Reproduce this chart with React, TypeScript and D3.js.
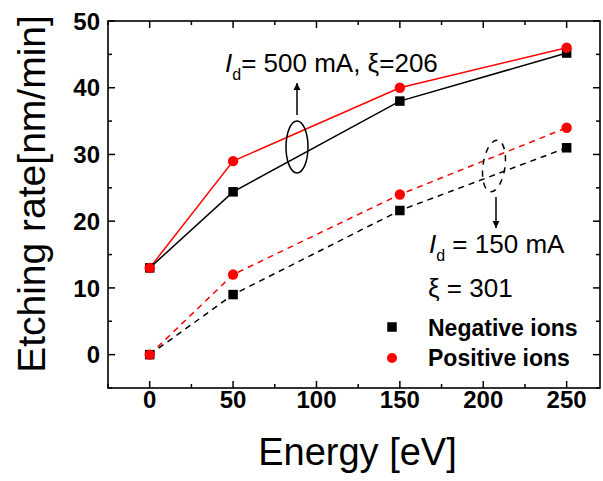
import React from "react";
import * as d3 from "d3";

const energies = [0, 50, 150, 250];
const neg500 = [13, 24.4, 38, 45.2];
const pos500 = [13, 29, 40, 46];
const neg150 = [0, 9, 21.6, 31];
const pos150 = [0, 12, 24, 34];
const xTicks = [0, 50, 100, 150, 200, 250];
const yTicks = [0, 10, 20, 30, 40, 50];
const xMinor = [-25, 25, 75, 125, 175, 225];
const yMinor = [-5, 5, 15, 25, 35, 45];

const W = 603, H = 481;
const L = 108, R = 600, T = 21, B = 388;
const FONT = "'Liberation Sans', Arial, Helvetica, sans-serif";

export default function App() {
  const x = d3.scaleLinear().domain([-25, 270]).range([L, R]);
  const y = d3.scaleLinear().domain([-5, 50]).range([B, T]);
  const line = d3.line<[number, number]>().x(d => x(d[0])).y(d => y(d[1]));
  const pts = (vals: number[]) => energies.map((e, i) => [e, vals[i]] as [number, number]);

  const series = [
    { vals: pos150, color: "#ff0000", dash: "6,5" },
    { vals: neg150, color: "#000000", dash: "6,5" },
    { vals: neg500, color: "#000000", dash: undefined },
    { vals: pos500, color: "#ff0000", dash: undefined },
  ];

  const sq = 9.5;
  return (
    <svg width={W} height={H} style={{ position: "absolute", left: 0, top: 0, background: "#fff" }} fontFamily={FONT}>
      <defs>
        <marker id="ah" viewBox="0 0 10 10" refX="10" refY="5" markerWidth="7" markerHeight="10" markerUnits="userSpaceOnUse" orient="auto">
          <path d="M0,0 L10,5 L0,10 z" fill="#000" />
        </marker>
      </defs>
      {series.map((s, i) => (
        <path key={i} d={line(pts(s.vals)) || ""} fill="none" stroke={s.color} strokeWidth={1.5} strokeDasharray={s.dash} />
      ))}
      {[neg150, neg500].map((vals, k) =>
        pts(vals).map((p, i) => (
          <rect key={`n${k}${i}`} x={x(p[0]) - sq / 2} y={y(p[1]) - sq / 2} width={sq} height={sq} fill="#000" />
        ))
      )}
      {[pos150, pos500].map((vals, k) =>
        pts(vals).map((p, i) => (
          <circle key={`p${k}${i}`} cx={x(p[0])} cy={y(p[1])} r={5.2} fill="#ff0000" />
        ))
      )}
      <rect x={L} y={T} width={R - L} height={B - T} fill="none" stroke="#000" strokeWidth={1.6} />
      {xTicks.map(t => (
        <g key={`xt${t}`}>
          <line x1={x(t)} x2={x(t)} y1={B} y2={B - 7} stroke="#000" strokeWidth={1.5} />
          <line x1={x(t)} x2={x(t)} y1={T} y2={T + 7} stroke="#000" strokeWidth={1.5} />
          <text x={x(t)} y={408} textAnchor="middle" fontWeight="bold" fontSize={24}>{t}</text>
        </g>
      ))}
      {xMinor.map(t => (
        <g key={`xm${t}`}>
          <line x1={x(t)} x2={x(t)} y1={B} y2={B - 4} stroke="#000" strokeWidth={1.5} />
          <line x1={x(t)} x2={x(t)} y1={T} y2={T + 4} stroke="#000" strokeWidth={1.5} />
        </g>
      ))}
      {yTicks.map(t => (
        <g key={`yt${t}`}>
          <line x1={L} x2={L + 7} y1={y(t)} y2={y(t)} stroke="#000" strokeWidth={1.5} />
          <line x1={R} x2={R - 7} y1={y(t)} y2={y(t)} stroke="#000" strokeWidth={1.5} />
          <text x={100} y={y(t)} dy="0.36em" textAnchor="end" fontWeight="bold" fontSize={24}>{t}</text>
        </g>
      ))}
      {yMinor.map(t => (
        <g key={`ym${t}`}>
          <line x1={L} x2={L + 4} y1={y(t)} y2={y(t)} stroke="#000" strokeWidth={1.5} />
          <line x1={R} x2={R - 4} y1={y(t)} y2={y(t)} stroke="#000" strokeWidth={1.5} />
        </g>
      ))}
      <text x={357.5} y={465} textAnchor="middle" fontSize={38}>Energy [eV]</text>
      <text transform="translate(45,194) rotate(-90)" textAnchor="middle" fontSize={39}>Etching rate[nm/min]</text>
      <ellipse cx={297} cy={147} rx={11} ry={26} fill="none" stroke="#000" strokeWidth={1.5} />
      <line x1={297} y1={115} x2={297} y2={83} stroke="#000" strokeWidth={1.5} markerEnd="url(#ah)" />
      <text x={225} y={72} fontSize={26}>
        <tspan fontStyle="italic">I</tspan>
        <tspan fontSize={16} dy={8}>d</tspan>
        <tspan dy={-8}>= 500 mA, ξ=206</tspan>
      </text>
      <ellipse cx={494} cy={166} rx={11} ry={26} fill="none" stroke="#000" strokeWidth={1.5} strokeDasharray="6,6" transform="rotate(8,494,166)" />
      <line x1={496} y1={197} x2={496} y2={228} stroke="#000" strokeWidth={1.5} markerEnd="url(#ah)" />
      <text x={429} y={253} fontSize={26}>
        <tspan fontStyle="italic">I</tspan>
        <tspan fontSize={16} dy={8}>d</tspan>
        <tspan dy={-8}> = 150 mA</tspan>
      </text>
      <text x={428} y={297} fontSize={26}>ξ = 301</text>
      <rect x={392 - sq / 2} y={327 - sq / 2} width={sq} height={sq} fill="#000" />
      <text x={428} y={336} fontSize={23} fontWeight="bold">Negative ions</text>
      <circle cx={392} cy={358} r={5} fill="#ff0000" />
      <text x={428} y={366} fontSize={23} fontWeight="bold">Positive ions</text>
    </svg>
  );
}
